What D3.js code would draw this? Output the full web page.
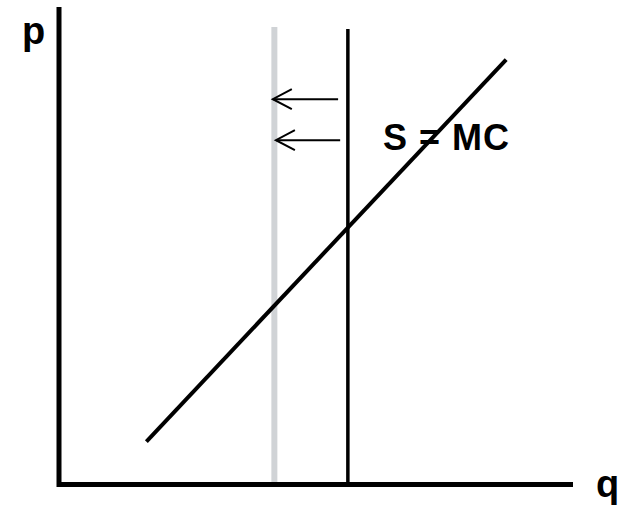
<!DOCTYPE html>
<html>
<head>
<meta charset="utf-8">
<script src="https://cdn.jsdelivr.net/npm/d3@7"></script>
<style>
  body { margin: 0; background: #fff; }
  text { font-family: "Liberation Sans", Arial, sans-serif; font-weight: bold; }
</style>
</head>
<body>
<div id="chart"></div>
<script>
// supply curve S = MC (quantity, price)
var supplyQ = [17, 87];
var supplyP = [9, 89];

// vertical quantity constraints: original (black) and reduced (grey)
var quotaQ     = [56.2, 41.9];
var quotaTop   = [95.4, 95.8];
var quotaColor = ["#000000", "#d0d3d6"];
var quotaWidth = [3.5, 6];

// arrows showing the shift from the old to the new quantity
var arrowFromQ = [54.3, 54.7];
var arrowToQ   = [41.6, 42.2];
var arrowP     = [80.7, 72.1];

var axisLabels = ["p", "q"];
var curveLabel = "S = MC";

var width = 625, height = 506;

var svg = d3.select("#chart").append("svg")
  .attr("width",  width)
  .attr("height", height);

var x = d3.scaleLinear().domain([0, 100]).range([59, 573]);
var y = d3.scaleLinear().domain([0, 100]).range([484.5, 7]);

// vertical lines (drawn first so axes sit on top)
quotaQ.forEach(function(q, i) {
  svg.append("line")
    .attr("x1", x(q)).attr("x2", x(q))
    .attr("y1", y(quotaTop[i])).attr("y2", y(0))
    .attr("stroke", quotaColor[i])
    .attr("stroke-width", quotaWidth[i]);
});

// supply curve
var line = d3.line()
  .x(function(d) { return x(d[0]); })
  .y(function(d) { return y(d[1]); });

svg.append("path")
  .datum(d3.zip(supplyQ, supplyP))
  .attr("d", line)
  .attr("fill", "none")
  .attr("stroke", "#000")
  .attr("stroke-width", 4);

// arrows with open heads
arrowP.forEach(function(p, i) {
  var tipX = x(arrowToQ[i]), tipY = y(p);
  svg.append("line")
    .attr("x1", x(arrowFromQ[i])).attr("x2", tipX)
    .attr("y1", tipY).attr("y2", tipY)
    .attr("stroke", "#000")
    .attr("stroke-width", 2);
  svg.append("path")
    .attr("d", "M" + (tipX + 19) + "," + (tipY - 10) +
               "L" + tipX + "," + tipY +
               "L" + (tipX + 19) + "," + (tipY + 10))
    .attr("fill", "none")
    .attr("stroke", "#000")
    .attr("stroke-width", 2);
});

// axes: plain lines, no ticks
svg.append("path")
  .attr("d", "M" + x(0) + "," + y(100) + "V" + y(0) + "H" + x(100))
  .attr("fill", "none")
  .attr("stroke", "#000")
  .attr("stroke-width", 5)
  .attr("stroke-linejoin", "miter");

// labels
svg.append("text")
  .attr("x", 22).attr("y", 44)
  .attr("font-size", 38)
  .text(axisLabels[0]);

svg.append("text")
  .attr("x", 596).attr("y", 497)
  .attr("font-size", 38)
  .text(axisLabels[1]);

svg.append("text")
  .attr("x", 383).attr("y", 150)
  .attr("font-size", 36)
  .attr("letter-spacing", 1)
  .text(curveLabel);
</script>
</body>
</html>
